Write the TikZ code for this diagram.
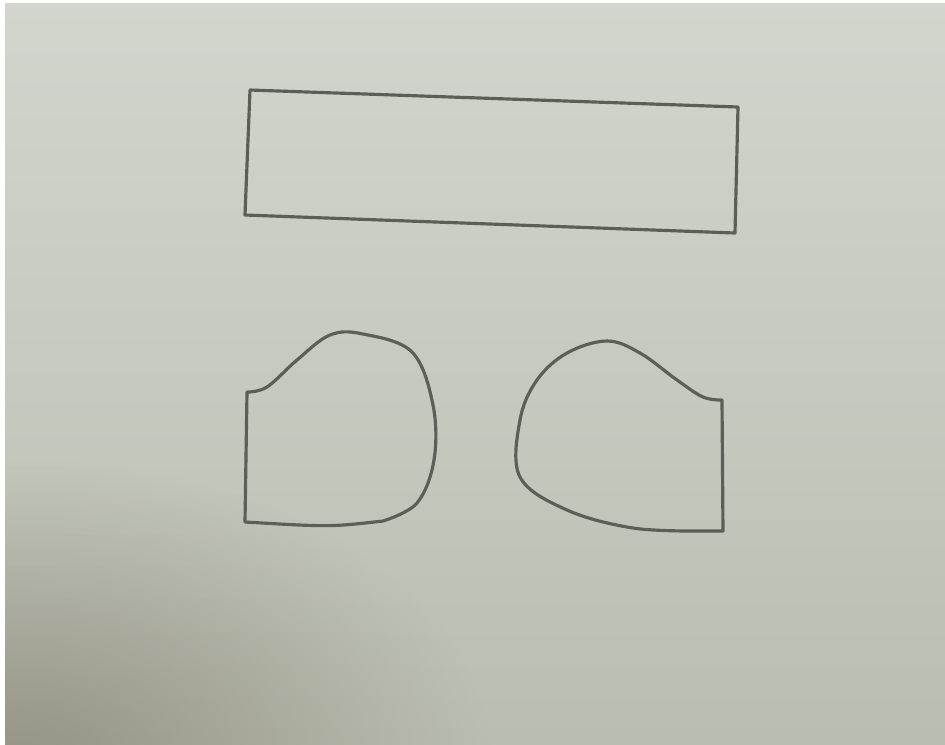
\documentclass[tikz,border=0pt]{standalone}
\usepackage{tikz}
\usetikzlibrary{fadings}
\definecolor{paperTop}{RGB}{210,213,205}
\definecolor{paperBot}{RGB}{186,190,177}
\definecolor{shadowC}{RGB}{125,120,105}
\definecolor{pencil}{RGB}{92,94,88}
\tikzfading[name=shadowfade,inner color=transparent!0,outer color=transparent!100]
\tikzset{pen/.style={draw=pencil,line width=0.9pt,line join=round,line cap=round}}

\begin{document}
\begin{tikzpicture}[x=0.01cm,y=-0.01cm]
	% paper
	\useasboundingbox (0,0) rectangle (945,744);
	\fill[white] (0,0) rectangle (945,744);
	\shade[top color=paperTop,bottom color=paperBot] (5,3) rectangle (945,744);
	% shadow in the lower left corner
	\begin{scope}
		\clip (5,3) rectangle (945,744);
		\fill[shadowC,opacity=0.6,path fading=shadowfade] (20,760) ellipse (470 and 300);
	\end{scope}
	
	% top box
	\draw[pen] (250,90) -- (738,107) -- (735,233) -- (245,215) -- cycle;
	
	% left piece
	\draw[pen] (245,522) -- (247,392) -- plot[smooth,tension=0.6] coordinates {(247,392) (267,387) (297,360) (330,335) (363,334) (412,352) (433,405) (434,460) (417,503) (383,521)} .. controls (330,527) .. (245,522) -- cycle;
	
	% right piece
	\draw[pen] (723,531) -- (722,400) -- plot[smooth,tension=0.6] coordinates {(722,400) (703,397) (677,380) (640,353) (607,341) (567,353) (537,380) (520,420) (520,477) (567,510) (633,528) (700,531)} -- cycle;
\end{tikzpicture}
\end{document}
